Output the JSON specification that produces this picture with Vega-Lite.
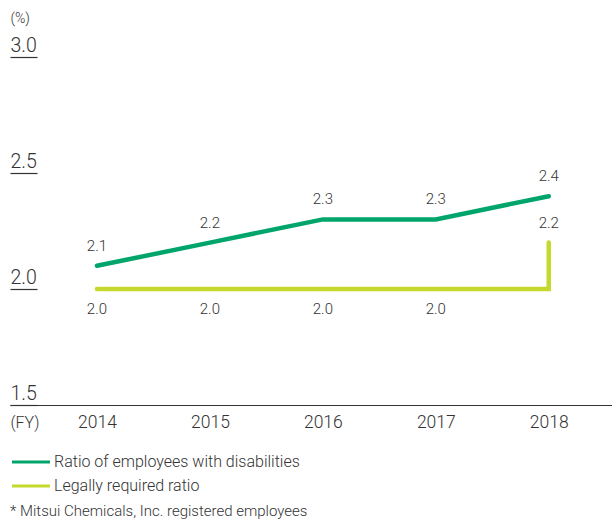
{
  "$schema": "https://vega.github.io/schema/vega-lite/v6.json",
  "width": 602,
  "height": 348,
  "autosize": {"type": "none"},
  "padding": {"left": 10, "top": 57, "right": 0, "bottom": 116},
  "background": "white",
  "config": {
    "view": {"stroke": null},
    "font": "Roboto",
    "text": {"font": "Roboto", "fontSize": 15, "fontWeight": 300, "color": "#333333"}
  },
  "title": {
    "text": "* Mitsui Chemicals, Inc. registered employees",
    "orient": "bottom",
    "anchor": "start",
    "frame": "group",
    "font": "Roboto",
    "fontSize": 15,
    "fontWeight": 300,
    "color": "#333333",
    "offset": 10
  },
  "data": {
    "values": [
      {"series": "Ratio of employees with disabilities", "year": 2014, "value": 2.1, "ord": 1, "lab": "above"},
      {"series": "Ratio of employees with disabilities", "year": 2015, "value": 2.2, "ord": 2, "lab": "above"},
      {"series": "Ratio of employees with disabilities", "year": 2016, "value": 2.3, "ord": 3, "lab": "above"},
      {"series": "Ratio of employees with disabilities", "year": 2017, "value": 2.3, "ord": 4, "lab": "above"},
      {"series": "Ratio of employees with disabilities", "year": 2018, "value": 2.4, "ord": 5, "lab": "above"},
      {"series": "Legally required ratio", "year": 2014, "value": 2.0, "ord": 1, "lab": "below"},
      {"series": "Legally required ratio", "year": 2015, "value": 2.0, "ord": 2, "lab": "below"},
      {"series": "Legally required ratio", "year": 2016, "value": 2.0, "ord": 3, "lab": "below"},
      {"series": "Legally required ratio", "year": 2017, "value": 2.0, "ord": 4, "lab": "below"},
      {"series": "Legally required ratio", "year": 2018, "value": 2.0, "ord": 5, "lab": "none"},
      {"series": "Legally required ratio", "year": 2018, "value": 2.2, "ord": 6, "lab": "above"}
    ]
  },
  "encoding": {
    "x": {
      "field": "year",
      "type": "quantitative",
      "scale": {"domain": [2013.23, 2018.56], "nice": false, "zero": false},
      "axis": {
        "values": [2014, 2015, 2016, 2017, 2018],
        "format": "d",
        "title": "(FY)",
        "titleAngle": 0,
        "titleX": 0,
        "titleY": 22,
        "titleAlign": "left",
        "titleBaseline": "alphabetic",
        "titleFont": "Roboto",
        "titleFontSize": 16,
        "titleFontWeight": 300,
        "titleColor": "#333333",
        "ticks": false,
        "tickSize": 0,
        "labelPadding": 8,
        "labelFont": "Roboto",
        "labelFontSize": 17.5,
        "labelFontWeight": 300,
        "labelColor": "#333333",
        "domainColor": "#333333",
        "domainWidth": 1.2,
        "grid": false
      }
    },
    "y": {
      "field": "value",
      "type": "quantitative",
      "scale": {"domain": [1.5, 3.0], "nice": false, "zero": false},
      "axis": {
        "values": [1.5, 2.0, 2.5, 3.0],
        "format": ".1f",
        "title": "(%)",
        "titleAngle": 0,
        "titleX": -27,
        "titleY": -35,
        "titleAlign": "left",
        "titleBaseline": "alphabetic",
        "titleFont": "Roboto",
        "titleFontSize": 14,
        "titleFontWeight": 300,
        "titleColor": "#333333",
        "offset": -27,
        "domain": false,
        "grid": false,
        "tickSize": 27,
        "tickColor": "#333333",
        "tickWidth": 1.2,
        "labelAlign": "left",
        "labelBaseline": "alphabetic",
        "labelPadding": 0,
        "labelOffset": -6,
        "labelFont": "Roboto",
        "labelFontSize": 19.5,
        "labelFontWeight": 300,
        "labelColor": "#333333"
      }
    }
  },
  "layer": [
    {
      "mark": {"type": "line", "strokeWidth": 4.5, "strokeCap": "round", "strokeJoin": "miter"},
      "encoding": {
        "color": {
          "field": "series",
          "type": "nominal",
          "scale": {
            "domain": ["Ratio of employees with disabilities", "Legally required ratio"],
            "range": ["#00a56b", "#c5d92d"]
          },
          "legend": {
            "orient": "none",
            "legendX": 10,
            "legendY": 394,
            "title": null,
            "symbolType": "M-2,0H2",
            "symbolSize": 361,
            "symbolStrokeWidth": 3,
            "symbolFillColor": "transparent",
            "labelFont": "Roboto",
            "labelFontSize": 16,
            "labelFontWeight": 300,
            "labelColor": "#333333",
            "labelOffset": 12,
            "labelLimit": 500,
            "rowPadding": 5
          }
        },
        "order": {"field": "ord", "type": "quantitative"}
      }
    },
    {
      "transform": [{"filter": "datum.lab == 'above'"}],
      "mark": {"type": "text", "dy": -15, "baseline": "alphabetic"},
      "encoding": {"text": {"field": "value", "type": "quantitative", "format": ".1f"}}
    },
    {
      "transform": [{"filter": "datum.lab == 'below'"}],
      "mark": {"type": "text", "dy": 25, "baseline": "alphabetic"},
      "encoding": {"text": {"field": "value", "type": "quantitative", "format": ".1f"}}
    }
  ]
}
